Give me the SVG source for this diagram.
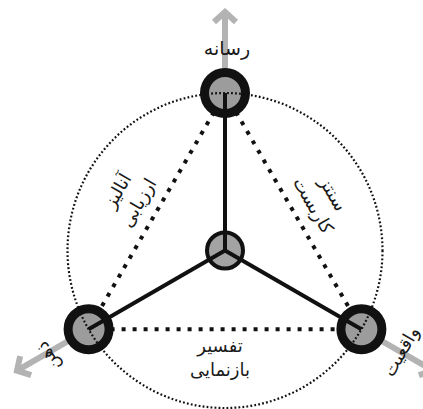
<svg xmlns="http://www.w3.org/2000/svg" width="423" height="409" viewBox="0 0 423 409">
<style>
.bg{fill:#ffffff}
.edge{stroke:#111;stroke-width:4;stroke-dasharray:4 7;fill:none}
.circ{stroke:#111;stroke-width:2.2;stroke-dasharray:1.8 2.2;fill:none}
.arrow{stroke:#b3b3b3;stroke-width:6;fill:none}
.spoke{stroke:#111;stroke-width:4;fill:none}
.ring{fill:#9c9c9c;stroke:#111;stroke-width:9}
.hub{fill:#a3a3a3;stroke:#111;stroke-width:4}
text{font-family:"DejaVu Sans",sans-serif;font-size:18px;fill:#1a1a1a;text-anchor:middle}
</style>
<defs>
<marker id="chev" markerUnits="userSpaceOnUse" viewBox="-16 -14 20 28" markerWidth="20" markerHeight="28" refX="0" refY="0" orient="auto">
<polyline points="-10,-11 0,0 -10,11" fill="none" stroke="#b3b3b3" stroke-width="6"/>
</marker>
</defs>
<rect class="bg" x="0" y="0" width="423" height="409"/>
<g id="connectors">
<line class="arrow" x1="225" y1="93" x2="225" y2="12" marker-end="url(#chev)"/>
<line class="arrow" x1="88.6" y1="329.25" x2="17" y2="370.6" marker-end="url(#chev)"/>
<line class="arrow" x1="361.4" y1="329.25" x2="433" y2="370.6" marker-end="url(#chev)"/>
<line class="edge" x1="225" y1="93" x2="88.6" y2="329.25"/>
<line class="edge" x1="225" y1="93" x2="361.4" y2="329.25"/>
<line class="edge" x1="88.6" y1="329.25" x2="361.4" y2="329.25"/>
<g transform="translate(156.8,211.1) rotate(-60)">
<text x="-2" y="-38">آنالیز</text>
<text x="-2" y="-14">ارزیابی</text>
</g>
<g transform="translate(293.2,211.1) rotate(60)">
<text x="5" y="-37">سنتز</text>
<text x="5" y="-14">کاربست</text>
</g>
<text x="220" y="352">تفسیر</text>
<text x="220" y="376">بازنمایی</text>
</g>
<g id="node-top">
<circle class="ring" cx="225" cy="93" r="20.5"/>
<text x="227" y="55" style="font-size:19px">رسانه</text>
</g>
<g id="node-left">
<circle class="ring" cx="88.6" cy="329.25" r="20.5"/>
<text transform="translate(49,356) rotate(-120)" x="0" y="5">ذهن</text>
</g>
<g id="node-right">
<circle class="ring" cx="361.4" cy="329.25" r="20.5"/>
<text transform="translate(402,352) rotate(-60)" x="0" y="5">واقعیت</text>
</g>
<g id="node-center">
<circle class="hub" cx="225" cy="250.5" r="18"/>
</g>
<g id="spokes">
<line class="spoke" x1="225" y1="250.5" x2="225" y2="93"/>
<line class="spoke" x1="225" y1="250.5" x2="88.6" y2="329.25"/>
<line class="spoke" x1="225" y1="250.5" x2="361.4" y2="329.25"/>
<circle class="circ" cx="225" cy="250.5" r="157.5"/>
</g>
</svg>
